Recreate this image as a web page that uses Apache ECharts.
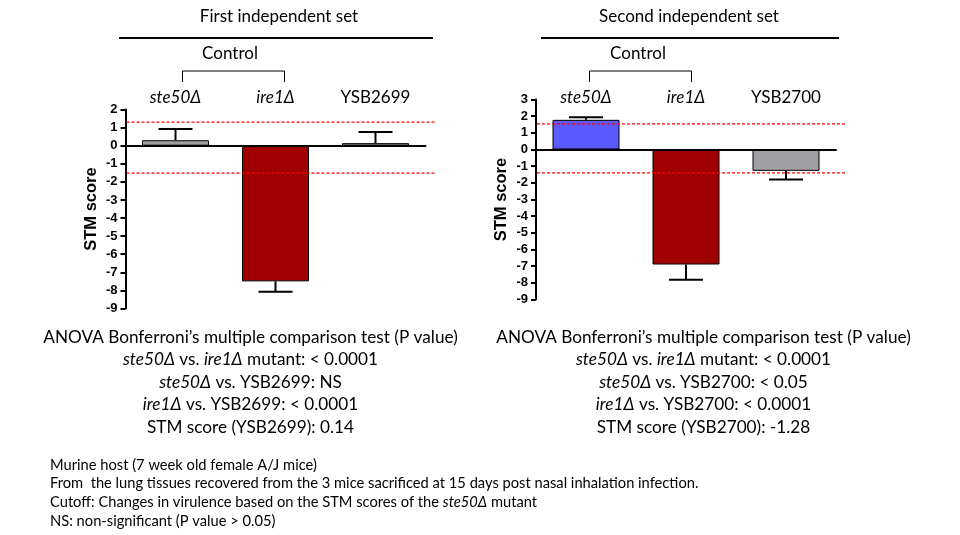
<!DOCTYPE html>
<html>
<head>
  <meta charset="utf-8">
  <title>STM score</title>
  <style>
    html, body { margin: 0; padding: 0; background: #fff; }
    #main { width: 960px; height: 535px; }
  </style>
</head>
<body>
<div id="main"></div>
<script src="https://cdn.jsdelivr.net/npm/echarts@6/dist/echarts.min.js"></script>
<script>
  // 数据
  var cats1 = ['ste50Δ', 'ire1Δ', 'YSB2699'];
  var cats2 = ['ste50Δ', 'ire1Δ', 'YSB2700'];
  var scores1 = [0.3, -7.5, 0.14];
  var errEnd1 = [0.92, -8.07, 0.75];
  var scores2 = [1.78, -6.9, -1.28];
  var errEnd2 = [1.94, -7.82, -1.8];
  var cutoff1 = [1.3, -1.52];
  var cutoff2 = [1.54, -1.4];
  var yTicks1 = { min: -9, max: 2 };
  var yTicks2 = { min: -9, max: 3 };
  var colors1 = ['#a0a0a4', '#a00000', '#a0a0a4'];
  var colors2 = ['#5a5aff', '#a00000', '#a0a0a4'];

  var statsLeft = [
    'ANOVA Bonferroni’s multiple comparison test (P value)',
    '{i|ste50Δ} vs. {i|ire1Δ} mutant: < 0.0001',
    '{i|ste50Δ} vs. YSB2699: NS',
    '{i|ire1Δ} vs. YSB2699: < 0.0001',
    'STM score (YSB2699): 0.14'
  ];
  var statsRight = [
    'ANOVA Bonferroni’s multiple comparison test (P value)',
    '{i|ste50Δ} vs. {i|ire1Δ} mutant: < 0.0001',
    '{i|ste50Δ} vs. YSB2700: < 0.05',
    '{i|ire1Δ} vs. YSB2700: < 0.0001',
    'STM score (YSB2700): -1.28'
  ];
  var notes = [
    'Murine host (7 week old female A/J mice)',
    'From  the lung tissues recovered from the 3 mice sacrificed at 15 days post nasal inhalation infection.',
    'Cutoff: Changes in virulence based on the STM scores of the {i|ste50Δ} mutant',
    'NS: non-significant (P value > 0.05)'
  ];

  var FONT = 'Lato, "Open Sans", sans-serif';
  var AXFONT = '"Liberation Sans", Arial, sans-serif';

  var myChart = echarts.init(document.getElementById('main'));

  function txt(x, y, text, size, align) {
    return {
      type: 'text', x: x, y: y, silent: true,
      style: {
        text: text, fill: '#000', fontSize: size, fontFamily: FONT,
        textAlign: align || 'center', textVerticalAlign: 'middle',
        rich: { i: { fontStyle: 'italic', fontSize: size, fontFamily: FONT } }
      }
    };
  }

  var graphics = [
    txt(279, 17, 'First independent set', 17),
    txt(689, 17, 'Second independent set', 17),
    { type: 'line', shape: { x1: 119, y1: 38, x2: 433, y2: 38 }, style: { stroke: '#000', lineWidth: 2 } },
    { type: 'line', shape: { x1: 541, y1: 38, x2: 839, y2: 38 }, style: { stroke: '#000', lineWidth: 2 } },
    txt(230, 54, 'Control', 17),
    txt(638, 54, 'Control', 17),
    { type: 'polyline', shape: { points: [[182.5, 82], [182.5, 71], [284.5, 71], [284.5, 82]] }, style: { stroke: '#000', lineWidth: 1, fill: null } },
    { type: 'polyline', shape: { points: [[589.5, 82], [589.5, 71], [691.5, 71], [691.5, 82]] }, style: { stroke: '#000', lineWidth: 1, fill: null } }
  ];
  statsLeft.forEach(function (s, i) { graphics.push(txt(250.5, 337 + i * 22.6, s, 17.2)); });
  statsRight.forEach(function (s, i) { graphics.push(txt(703.5, 337 + i * 22.6, s, 17.2)); });
  notes.forEach(function (s, i) { graphics.push(txt(50, 465 + i * 18.7, s, 14.7, 'left')); });

  function errBars(gridIdx, ends, scores) {
    return {
      type: 'custom', xAxisIndex: gridIdx * 2, yAxisIndex: gridIdx, z: 4, silent: true,
      data: scores.map(function (v, i) { return [i, v, ends[i]]; }),
      renderItem: function (params, api) {
        var p0 = api.coord([api.value(0), api.value(1)]);
        var p1 = api.coord([api.value(0), api.value(2)]);
        var hw = api.size([1, 0])[0] * 0.17;
        return {
          type: 'group',
          children: [
            { type: 'line', shape: { x1: p0[0], y1: p0[1], x2: p1[0], y2: p1[1] }, style: { stroke: '#000', lineWidth: 2 } },
            { type: 'line', shape: { x1: p1[0] - hw, y1: p1[1], x2: p1[0] + hw, y2: p1[1] }, style: { stroke: '#000', lineWidth: 2 } }
          ]
        };
      }
    };
  }

  // 截断线（红色虚线），每条单独一个系列，略超出坐标轴右端
  function cutLine(gridIdx, c) {
    return {
      type: 'custom', xAxisIndex: gridIdx * 2, yAxisIndex: gridIdx, z: 3, silent: true,
      data: [[0, c]],
      renderItem: function (params, api) {
        var y = api.coord([0, api.value(1)])[1];
        var cs = params.coordSys;
        return {
          type: 'line',
          shape: { x1: cs.x + 1, y1: y, x2: cs.x + cs.width + 9, y2: y },
          style: { stroke: 'rgb(255,0,0)', fill: null, lineWidth: 1.2, lineDash: [3, 2] }
        };
      }
    };
  }

  function bars(gridIdx, scores, colors) {
    return {
      type: 'bar', xAxisIndex: gridIdx * 2, yAxisIndex: gridIdx, barWidth: '67%', silent: true,
      data: scores.map(function (v, i) {
        return { value: v, itemStyle: { color: colors[i], borderColor: '#000', borderWidth: 1 } };
      })
    };
  }

  function xBottom(gridIdx, cats) {
    return {
      type: 'category', gridIndex: gridIdx, data: cats, z: 5,
      axisLine: { onZero: true, lineStyle: { color: '#000', width: 2 } },
      axisTick: { alignWithLabel: true, length: 7, lineStyle: { color: '#000', width: 1.5 } },
      axisLabel: { show: false },
      splitLine: { show: false }
    };
  }
  function xTop(gridIdx, cats, margin) {
    return {
      type: 'category', gridIndex: gridIdx, data: cats, position: 'top',
      axisLine: { show: false, onZero: false }, axisTick: { show: false },
      splitLine: { show: false },
      axisLabel: {
        margin: margin, color: '#000', fontSize: 17, fontFamily: FONT,
        formatter: function (v, i) { return i < 2 ? '{i|' + v + '}' : v; },
        rich: { i: { fontStyle: 'italic', fontSize: 17, fontFamily: FONT, color: '#000' } }
      }
    };
  }
  function yAxis(gridIdx, t, gap) {
    return {
      type: 'value', gridIndex: gridIdx, min: t.min, max: t.max, interval: 1,
      name: 'STM score', nameLocation: 'middle', nameGap: gap, nameRotate: 90,
      nameTextStyle: { color: '#000', fontWeight: 'bold', fontSize: 16.5, fontFamily: AXFONT },
      axisLine: { show: true, lineStyle: { color: '#000', width: 2 } },
      axisTick: { show: true, length: 5, lineStyle: { color: '#000', width: 2 } },
      axisLabel: { color: '#000', fontWeight: 'bold', fontSize: 13, fontFamily: AXFONT, margin: 8 },
      splitLine: { show: false }
    };
  }

  myChart.setOption({
    animation: false,
    grid: [
      { left: 125.5, top: 109.5, width: 300, height: 199 },
      { left: 536, top: 99.5, width: 300, height: 200 }
    ],
    xAxis: [xBottom(0, cats1), xTop(0, cats1, 3), xBottom(1, cats2), xTop(1, cats2, -7)],
    yAxis: [yAxis(0, yTicks1, 26), yAxis(1, yTicks2, 26)],
    series: [
      bars(0, scores1, colors1),
      cutLine(0, cutoff1[0]),
      cutLine(0, cutoff1[1]),
      errBars(0, errEnd1, scores1),
      bars(1, scores2, colors2),
      cutLine(1, cutoff2[0]),
      cutLine(1, cutoff2[1]),
      errBars(1, errEnd2, scores2)
    ],
    graphic: graphics
  });
</script>
</body>
</html>
